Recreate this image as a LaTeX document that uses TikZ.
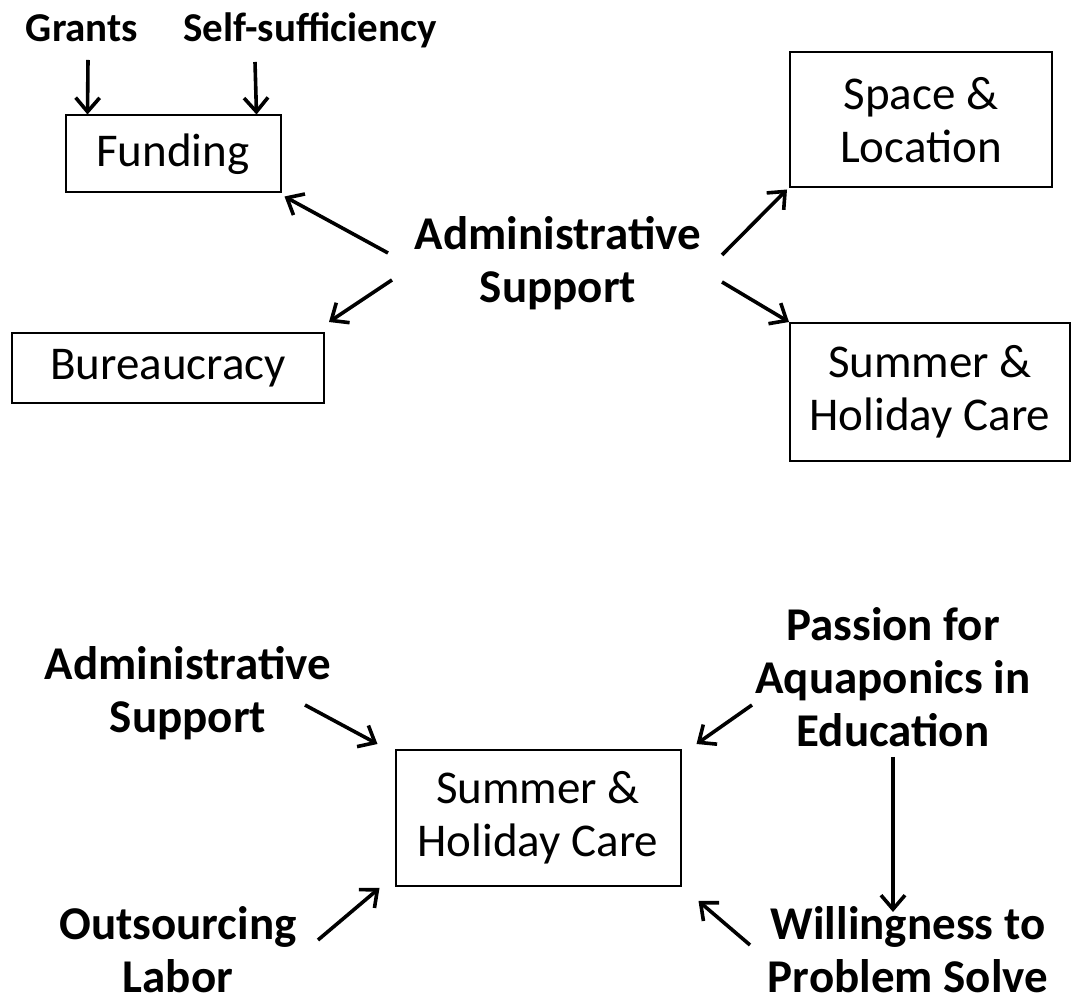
\documentclass[tikz,border=0pt]{standalone}
\usepackage{fontspec}
\setmainfont{Carlito}
\usepackage{tikz}
\usetikzlibrary{arrows.meta,positioning}

\begin{document}
\begin{tikzpicture}
[x=0.5pt,y=-0.5pt,
 box/.style={rectangle,draw,line width=1pt,align=center,inner sep=0pt,font=\fontsize{23.5}{26.5}\selectfont},
 lbl/.style={align=center,inner sep=2pt,font=\fontsize{23.5}{26.5}\selectfont\bfseries},
 small/.style={inner sep=2pt,anchor=base,font=\fontsize{20.5}{24}\selectfont\bfseries},
 arr/.style={-{Straight Barb[length=7pt,width=12pt]},line width=1.8pt}]
\useasboundingbox (0,0) rectangle (1073,1004);

% upper part
\node[small] (grants) at (82,42) {Grants};
\node[small] (selfsuf) at (310,42) {Self-sufficiency};
\node[box,minimum width=107.5pt,minimum height=38.5pt] (funding) at (173,154) {Funding};
\node[box,minimum width=131pt,minimum height=67.5pt] (space) at (921,120) {Space \&\\Location};
\node[box,minimum width=156pt,minimum height=35pt] (bureau) at (168,368) {Bureaucracy};
\node[box,minimum width=140pt,minimum height=69pt] (summer) at (930,392) {Summer \&\\Holiday Care};
\node[lbl] (admin) at (558,263) {Administrative\\Support};

\draw[arr] ([shift={(6,18)}]grants.base) -- ([shift={(23,0)}]funding.north west);
\draw[arr] ([shift={(-55,20)}]selfsuf.base) -- ([shift={(-25,0)}]funding.north east);
\draw[arr] ([shift={(-170,-10)}]admin.center) -- ([shift={(3,3)}]funding.south east);
\draw[arr] ([shift={(-166,17)}]admin.center) -- ([shift={(4,-10)}]bureau.north east);
\draw[arr] ([shift={(164,-8)}]admin.center) -- ([shift={(-2,1)}]space.south west);
\draw[arr] ([shift={(164,19)}]admin.center) -- (summer.north west);

% lower part
\node[box,minimum width=142.5pt,minimum height=68pt] (care) at (538,818) {Summer \&\\Holiday Care};
\node[lbl] (admin2) at (188,693) {Administrative\\Support};
\node[lbl] (passion) at (893,677) {Passion for\\Aquaponics in\\Education};
\node[lbl] (will) at (908,950) {Willingness to\\Problem Solve};
\node[lbl] (outs) at (178,950) {Outsourcing\\Labor};

\draw[arr] ([shift={(117,12)}]admin2.center) -- ([shift={(-17,-5)}]care.north west);
\draw[arr] ([shift={(-141,28)}]passion.center) -- ([shift={(15,-5)}]care.north east);
\draw[arr] ([shift={(0,80)}]passion.center) -- ([shift={(-15,-38)}]will.center);
\draw[arr] ([shift={(-158,-5)}]will.center) -- ([shift={(17,14)}]care.south east);
\draw[arr] ([shift={(140,-10)}]outs.center) -- ([shift={(-15,1)}]care.south west);
\end{tikzpicture}
\end{document}
